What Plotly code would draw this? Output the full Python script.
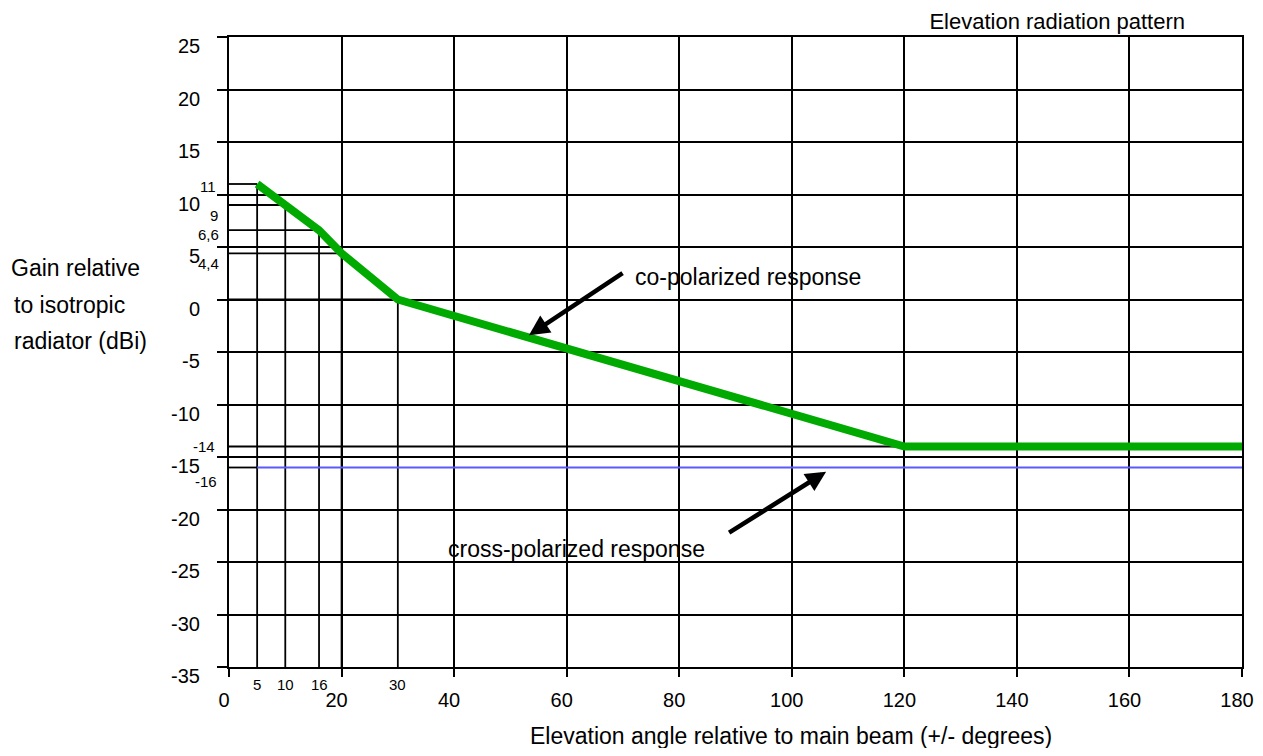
import plotly.graph_objects as go

# ---------------- data ----------------
angles = [5, 10, 16, 20, 30, 120, 180]          # co-polarized breakpoints (deg)
gains = [11, 9, 6.6, 4.4, 0, -14, -14]          # co-polarized gain (dBi)
cross_angles = [5, 180]                          # cross-polarized response (deg)
cross_gains = [-16, -16]                         # cross-polarized gain (dBi)

x_ticks = [0, 20, 40, 60, 80, 100, 120, 140, 160, 180]
y_ticks = [25, 20, 15, 10, 5, 0, -5, -10, -15, -20, -25, -30, -35]
marked_angles = [5, 10, 16, 30]                  # small labels under the x axis
marked_gains = [11, 9, 6.6, 4.4, -14, -16]       # small labels left of the y axis

chart_title = "Elevation radiation pattern"
x_title = "Elevation angle relative to main beam (+/- degrees)"
y_title_lines = ["Gain relative", "to isotropic", "radiator (dBi)"]
co_label = "co-polarized response"
cross_label = "cross-polarized response"

# arrow tips / tails and label anchors (data coordinates)
co_arrow_tip = (53.3, -3.4)
co_arrow_tail = (70.2, 2.6)
cross_arrow_tip = (106.1, -16.4)
cross_arrow_tail = (88.6, -22.3)
co_label_pos = (71.8, 2.15)
cross_label_pos = (38.6, -23.75)
x_title_left = 53.1

# ---------------- styling ----------------
FONT = "Liberation Sans, Arial, sans-serif"
XMIN, XMAX = x_ticks[0], x_ticks[-1]
YMIN, YMAX = min(y_ticks), max(y_ticks)
PAGE_PAD = 8            # default body margin of the html page
W, H = 1263 - 2 * PAGE_PAD, 756 - 2 * PAGE_PAD

fig = go.Figure()

# reference (drop) lines from the axes to the breakpoints
dx, dy = [], []
for a, g in zip(angles[:5], gains[:5]):
    dx += [a, a, None, XMIN, a, None]
    dy += [YMIN, g, None, g, g, None]
dx += [XMIN, XMAX, None, XMIN, cross_angles[0], None]
dy += [gains[-1], gains[-1], None, cross_gains[0], cross_gains[0], None]
fig.add_trace(go.Scatter(x=dx, y=dy, mode="lines",
                         line=dict(color="black", width=1.8),
                         hoverinfo="skip", showlegend=False))

# cross-polarized response
fig.add_trace(go.Scatter(x=cross_angles, y=cross_gains, mode="lines",
                         line=dict(color="#5a5aff", width=2.2),
                         showlegend=False))

# co-polarized response
fig.add_trace(go.Scatter(x=angles, y=gains, mode="lines",
                         line=dict(color="#00aa00", width=8),
                         showlegend=False))

annotations = []

# main y tick labels (sit a bit below their grid lines)
for v in y_ticks:
    annotations.append(dict(x=XMIN, y=v, xref="x", yref="y", text=str(v),
                            showarrow=False, xanchor="right", yanchor="middle",
                            xshift=-27, yshift=-9,
                            font=dict(family=FONT, size=20, color="black")))

# small gain labels
small_y_shift = {11: -2, 9: -10, 6.6: -4, 4.4: -10, -14: 0, -16: -14}
small_x_shift = {11: -11, 9: -9, 6.6: -8, 4.4: -8, -14: -12, -16: -10}
for g in marked_gains:
    annotations.append(dict(x=XMIN, y=g, xref="x", yref="y",
                            text=f"{g:g}".replace(".", ","),
                            showarrow=False, xanchor="right", yanchor="middle",
                            xshift=small_x_shift[g], yshift=small_y_shift[g],
                            font=dict(family=FONT, size=15, color="black")))

# small angle labels
for a in marked_angles:
    annotations.append(dict(x=a, y=YMIN, xref="x", yref="y", text=str(a),
                            showarrow=False, xanchor="center", yanchor="middle",
                            yshift=-17,
                            font=dict(family=FONT, size=15, color="black")))

# y title (three lines)
for i, line in enumerate(y_title_lines):
    annotations.append(dict(x=0, y=[0.6335, 0.5745, 0.518][i], xref="paper", yref="paper",
                            text=line, showarrow=False, xanchor="left", yanchor="middle",
                            xshift=[-220, -217, -217][i],
                            font=dict(family=FONT, size=23, color="black")))

# x title
annotations.append(dict(x=x_title_left, y=0, xref="x", yref="paper", text=x_title,
                        showarrow=False, xanchor="left", yanchor="middle", yshift=-69,
                        font=dict(family=FONT, size=23, color="black")))

# arrows
for tip, tail in [(co_arrow_tip, co_arrow_tail), (cross_arrow_tip, cross_arrow_tail)]:
    annotations.append(dict(x=tip[0], y=tip[1], ax=tail[0], ay=tail[1],
                            xref="x", yref="y", axref="x", ayref="y",
                            text="", showarrow=True, arrowhead=2, arrowsize=0.9,
                            arrowwidth=4.5, arrowcolor="black"))

annotations.append(dict(x=co_label_pos[0], y=co_label_pos[1], xref="x", yref="y",
                        text=co_label, showarrow=False, xanchor="left", yanchor="middle",
                        font=dict(family=FONT, size=23, color="black")))
annotations.append(dict(x=cross_label_pos[0], y=cross_label_pos[1], xref="x", yref="y",
                        text=cross_label, showarrow=False, xanchor="left", yanchor="middle",
                        font=dict(family=FONT, size=23, color="black")))

fig.update_layout(
    width=W, height=H,
    margin=dict(l=229.3 - PAGE_PAD, r=W - (1241.7 - PAGE_PAD), t=37 - PAGE_PAD,
                b=H - (667.3 - PAGE_PAD), autoexpand=False),
    paper_bgcolor="white", plot_bgcolor="white",
    font=dict(family=FONT, size=20, color="black"),
    title=dict(text=chart_title, xref="container", yref="container",
               x=(1185 - PAGE_PAD) / W, xanchor="right",
               y=1 - (21 - PAGE_PAD) / H, yanchor="middle",
               font=dict(family=FONT, size=22, color="black")),
    annotations=annotations,
    showlegend=False,
)

fig.update_xaxes(range=[XMIN, XMAX], tickvals=x_ticks, ticktext=[str(t) for t in x_ticks],
                 showgrid=True, gridcolor="black", gridwidth=2,
                 showline=True, linecolor="black", linewidth=2, mirror=True,
                 ticks="outside", ticklen=8, tickwidth=2, tickcolor="black",
                 zeroline=False, ticklabelstandoff=6, ticklabelshift=-5,
                 ticklabeloverflow="allow",
                 tickfont=dict(family=FONT, size=20, color="black"))
fig.update_yaxes(range=[YMIN, YMAX], tickvals=y_ticks, showticklabels=False,
                 showgrid=True, gridcolor="black", gridwidth=2,
                 showline=True, linecolor="black", linewidth=2, mirror=True,
                 ticks="outside", ticklen=10, tickwidth=2, tickcolor="black",
                 zeroline=False)

fig.write_html("out.html")
